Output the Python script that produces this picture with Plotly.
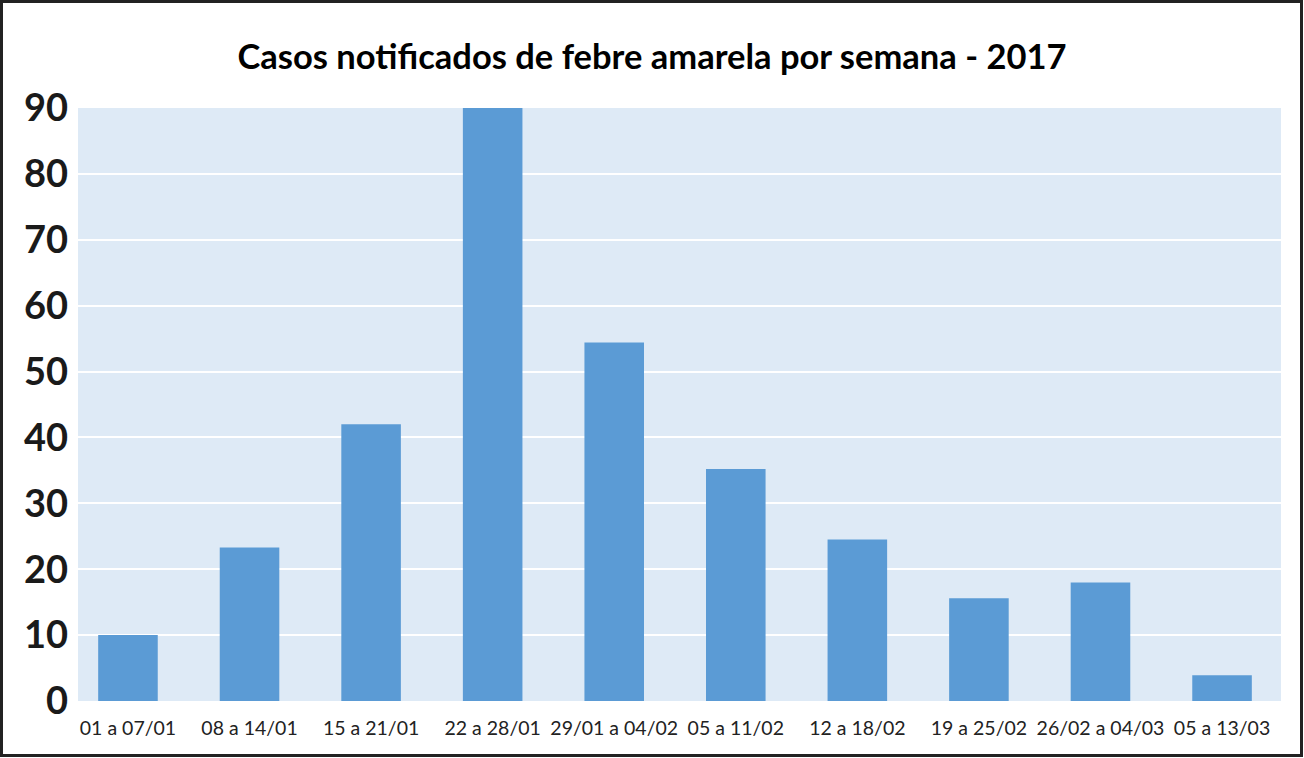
import plotly.graph_objects as go

semanas = ['01 a 07/01', '08 a 14/01', '15 a 21/01', '22 a 28/01', '29/01 a 04/02',
           '05 a 11/02', '12 a 18/02', '19 a 25/02', '26/02 a 04/03', '05 a 13/03']
casos = [10, 23.3, 42, 90, 54.4, 35.2, 24.5, 15.6, 18, 3.9]
y_ticks = [0, 10, 20, 30, 40, 50, 60, 70, 80, 90]

W, H = 1304, 758
ml, mr, mt, mb = 78, 23, 108, 57
pw, ph = W - ml - mr, H - mt - mb

fig = go.Figure()
fig.add_trace(go.Bar(
    x=list(range(len(semanas))), y=casos,
    width=0.49,
    marker=dict(color='#5b9bd5', line=dict(width=0)),
    showlegend=False))

# black frame around the whole picture
fig.add_shape(type='rect', xref='paper', yref='paper',
              x0=(1.5 - ml) / pw, x1=(W - 2.5 - ml) / pw,
              y0=(H - mb - (H - 2.5)) / ph, y1=(H - mb - 1.5) / ph,
              line=dict(color='#222222', width=3), layer='above')

fig.update_layout(
    width=W, height=H,
    margin=dict(l=ml, r=mr, t=mt, b=mb),
    paper_bgcolor='white',
    plot_bgcolor='#deeaf6',
    font=dict(family='Lato', color='#1a1a1a'),
    title=dict(text='<b>Casos notificados de febre amarela por semana - 2017</b>',
               x=0.5, xref='container', xanchor='center',
               y=1 - 57 / H, yanchor='middle',
               font=dict(size=34.5, color='#000000')),
    bargap=0.5,
)
fig.update_xaxes(
    tickmode='array', tickvals=list(range(len(semanas))), ticktext=semanas,
    range=[-0.411, 9.485],
    showgrid=False, zeroline=False, showline=False,
    tickfont=dict(size=19.5, color='#222222'),
    ticklabelstandoff=13,
)
fig.update_yaxes(
    range=[0, 90], tickvals=y_ticks,
    showgrid=True, gridcolor='white', gridwidth=2,
    zeroline=False, showline=False,
    tickfont=dict(size=38, color='#1a1a1a', weight='bold'),
    ticklabelstandoff=9,
)

fig.write_html('out.html', config={'displayModeBar': False},
               post_script="document.body.style.margin='0';")
